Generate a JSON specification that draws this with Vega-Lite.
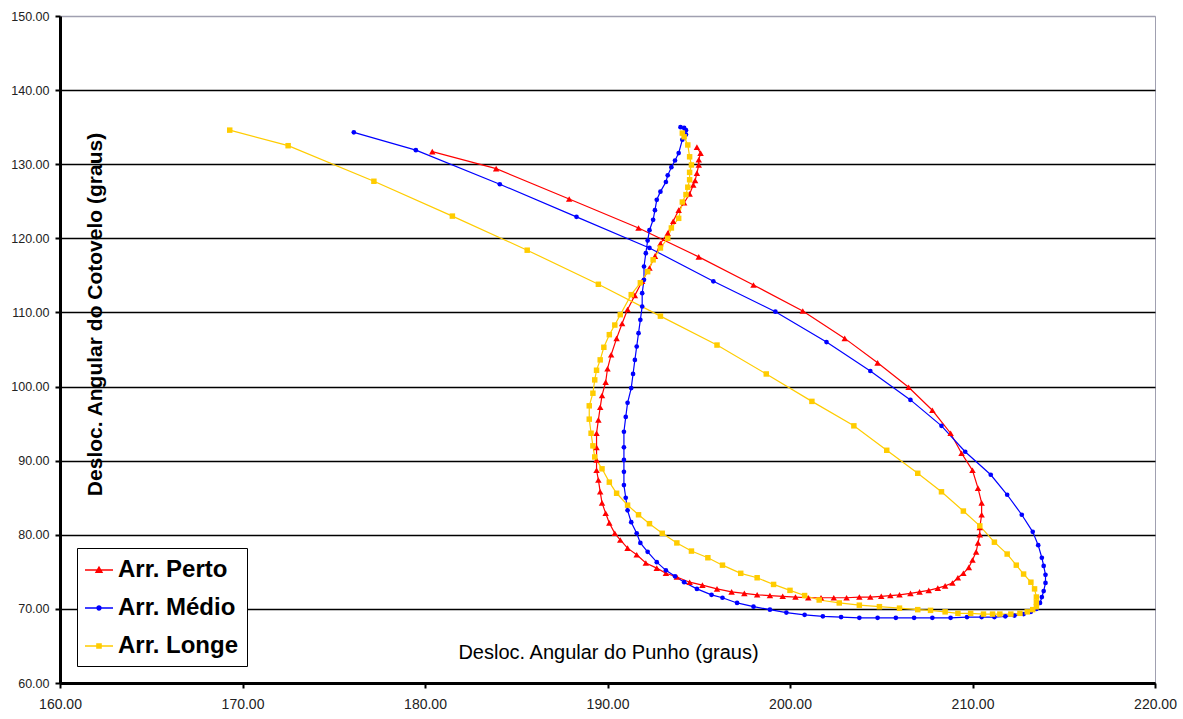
{
  "$schema": "https://vega.github.io/schema/vega-lite/v6.json",
  "width": 1095,
  "height": 667,
  "autosize": {"type": "none"},
  "padding": {"left": 60, "top": 16, "right": 28, "bottom": 36},
  "background": "white",
  "config": {
    "view": {"stroke": "#a0a0b0", "strokeWidth": 1},
    "font": "Liberation Sans"
  },
  "data": {"values": [
{"s":"Arr. Perto","x":194.9,"y":132.3},{"s":"Arr. Perto","x":195.1,"y":131.5},{"s":"Arr. Perto","x":195.0,"y":130.6},{"s":"Arr. Perto","x":195.0,"y":129.9},{"s":"Arr. Perto","x":194.9,"y":128.8},{"s":"Arr. Perto","x":194.8,"y":127.8},{"s":"Arr. Perto","x":194.7,"y":127.2},{"s":"Arr. Perto","x":194.5,"y":126.0},{"s":"Arr. Perto","x":194.2,"y":124.8},{"s":"Arr. Perto","x":193.9,"y":123.8},{"s":"Arr. Perto","x":193.6,"y":122.3},{"s":"Arr. Perto","x":193.3,"y":120.7},{"s":"Arr. Perto","x":192.9,"y":119.3},{"s":"Arr. Perto","x":192.6,"y":117.6},{"s":"Arr. Perto","x":192.3,"y":116.0},{"s":"Arr. Perto","x":191.9,"y":114.2},{"s":"Arr. Perto","x":191.5,"y":112.3},{"s":"Arr. Perto","x":191.1,"y":110.4},{"s":"Arr. Perto","x":190.8,"y":108.5},{"s":"Arr. Perto","x":190.5,"y":106.5},{"s":"Arr. Perto","x":190.2,"y":104.3},{"s":"Arr. Perto","x":190.0,"y":102.4},{"s":"Arr. Perto","x":189.9,"y":100.6},{"s":"Arr. Perto","x":189.7,"y":98.8},{"s":"Arr. Perto","x":189.6,"y":97.2},{"s":"Arr. Perto","x":189.5,"y":95.5},{"s":"Arr. Perto","x":189.4,"y":93.7},{"s":"Arr. Perto","x":189.4,"y":91.8},{"s":"Arr. Perto","x":189.4,"y":90.1},{"s":"Arr. Perto","x":189.4,"y":88.7},{"s":"Arr. Perto","x":189.5,"y":87.4},{"s":"Arr. Perto","x":189.6,"y":85.8},{"s":"Arr. Perto","x":189.7,"y":84.3},{"s":"Arr. Perto","x":189.9,"y":82.9},{"s":"Arr. Perto","x":190.1,"y":81.6},{"s":"Arr. Perto","x":190.4,"y":80.2},{"s":"Arr. Perto","x":190.7,"y":79.3},{"s":"Arr. Perto","x":191.1,"y":78.2},{"s":"Arr. Perto","x":191.6,"y":77.3},{"s":"Arr. Perto","x":192.1,"y":76.2},{"s":"Arr. Perto","x":192.7,"y":75.5},{"s":"Arr. Perto","x":193.2,"y":74.8},{"s":"Arr. Perto","x":193.8,"y":74.3},{"s":"Arr. Perto","x":194.5,"y":73.6},{"s":"Arr. Perto","x":195.2,"y":73.2},{"s":"Arr. Perto","x":196.0,"y":72.7},{"s":"Arr. Perto","x":196.8,"y":72.3},{"s":"Arr. Perto","x":197.5,"y":72.1},{"s":"Arr. Perto","x":198.2,"y":71.9},{"s":"Arr. Perto","x":198.9,"y":71.8},{"s":"Arr. Perto","x":199.6,"y":71.7},{"s":"Arr. Perto","x":200.3,"y":71.6},{"s":"Arr. Perto","x":201.0,"y":71.5},{"s":"Arr. Perto","x":201.7,"y":71.5},{"s":"Arr. Perto","x":202.4,"y":71.5},{"s":"Arr. Perto","x":203.1,"y":71.5},{"s":"Arr. Perto","x":203.8,"y":71.6},{"s":"Arr. Perto","x":204.4,"y":71.6},{"s":"Arr. Perto","x":205.0,"y":71.7},{"s":"Arr. Perto","x":205.5,"y":71.8},{"s":"Arr. Perto","x":206.0,"y":71.9},{"s":"Arr. Perto","x":206.6,"y":72.1},{"s":"Arr. Perto","x":207.1,"y":72.3},{"s":"Arr. Perto","x":207.6,"y":72.5},{"s":"Arr. Perto","x":208.1,"y":72.8},{"s":"Arr. Perto","x":208.5,"y":73.1},{"s":"Arr. Perto","x":208.9,"y":73.5},{"s":"Arr. Perto","x":209.2,"y":74.2},{"s":"Arr. Perto","x":209.5,"y":74.8},{"s":"Arr. Perto","x":209.8,"y":75.6},{"s":"Arr. Perto","x":210.0,"y":76.6},{"s":"Arr. Perto","x":210.2,"y":77.7},{"s":"Arr. Perto","x":210.3,"y":78.9},{"s":"Arr. Perto","x":210.4,"y":80.0},{"s":"Arr. Perto","x":210.4,"y":81.0},{"s":"Arr. Perto","x":210.5,"y":82.7},{"s":"Arr. Perto","x":210.5,"y":84.3},{"s":"Arr. Perto","x":210.3,"y":86.3},{"s":"Arr. Perto","x":210.0,"y":88.7},{"s":"Arr. Perto","x":209.4,"y":91.0},{"s":"Arr. Perto","x":208.8,"y":93.7},{"s":"Arr. Perto","x":207.8,"y":96.8},{"s":"Arr. Perto","x":206.5,"y":99.9},{"s":"Arr. Perto","x":204.8,"y":103.2},{"s":"Arr. Perto","x":203.0,"y":106.5},{"s":"Arr. Perto","x":200.7,"y":110.2},{"s":"Arr. Perto","x":198.0,"y":113.7},{"s":"Arr. Perto","x":195.0,"y":117.5},{"s":"Arr. Perto","x":191.7,"y":121.4},{"s":"Arr. Perto","x":187.9,"y":125.3},{"s":"Arr. Perto","x":183.9,"y":129.4},{"s":"Arr. Perto","x":180.4,"y":131.7},
{"s":"Arr. Médio","x":194.2,"y":134.9},{"s":"Arr. Médio","x":194.0,"y":135.0},{"s":"Arr. Médio","x":194.3,"y":134.6},{"s":"Arr. Médio","x":194.3,"y":134.0},{"s":"Arr. Médio","x":194.1,"y":133.3},{"s":"Arr. Médio","x":193.9,"y":131.5},{"s":"Arr. Médio","x":193.7,"y":130.5},{"s":"Arr. Médio","x":193.5,"y":129.6},{"s":"Arr. Médio","x":193.3,"y":128.5},{"s":"Arr. Médio","x":193.2,"y":127.6},{"s":"Arr. Médio","x":192.9,"y":126.3},{"s":"Arr. Médio","x":192.7,"y":125.2},{"s":"Arr. Médio","x":192.6,"y":123.8},{"s":"Arr. Médio","x":192.5,"y":122.5},{"s":"Arr. Médio","x":192.3,"y":121.1},{"s":"Arr. Médio","x":192.2,"y":119.7},{"s":"Arr. Médio","x":192.1,"y":118.0},{"s":"Arr. Médio","x":192.0,"y":116.2},{"s":"Arr. Médio","x":192.0,"y":114.4},{"s":"Arr. Médio","x":191.9,"y":112.6},{"s":"Arr. Médio","x":191.9,"y":110.8},{"s":"Arr. Médio","x":191.8,"y":109.0},{"s":"Arr. Médio","x":191.7,"y":107.2},{"s":"Arr. Médio","x":191.6,"y":105.4},{"s":"Arr. Médio","x":191.5,"y":103.6},{"s":"Arr. Médio","x":191.4,"y":101.7},{"s":"Arr. Médio","x":191.3,"y":99.8},{"s":"Arr. Médio","x":191.1,"y":97.8},{"s":"Arr. Médio","x":191.0,"y":95.9},{"s":"Arr. Médio","x":190.9,"y":93.9},{"s":"Arr. Médio","x":190.9,"y":91.8},{"s":"Arr. Médio","x":190.9,"y":90.1},{"s":"Arr. Médio","x":190.9,"y":88.5},{"s":"Arr. Médio","x":190.9,"y":86.7},{"s":"Arr. Médio","x":191.0,"y":85.0},{"s":"Arr. Médio","x":191.1,"y":83.3},{"s":"Arr. Médio","x":191.3,"y":81.7},{"s":"Arr. Médio","x":191.6,"y":80.2},{"s":"Arr. Médio","x":191.8,"y":78.9},{"s":"Arr. Médio","x":192.2,"y":77.7},{"s":"Arr. Médio","x":192.7,"y":76.3},{"s":"Arr. Médio","x":193.2,"y":75.2},{"s":"Arr. Médio","x":193.7,"y":74.4},{"s":"Arr. Médio","x":194.2,"y":73.6},{"s":"Arr. Médio","x":194.9,"y":72.7},{"s":"Arr. Médio","x":195.7,"y":71.9},{"s":"Arr. Médio","x":196.3,"y":71.5},{"s":"Arr. Médio","x":197.1,"y":70.8},{"s":"Arr. Médio","x":198.0,"y":70.3},{"s":"Arr. Médio","x":198.9,"y":69.9},{"s":"Arr. Médio","x":199.8,"y":69.5},{"s":"Arr. Médio","x":200.8,"y":69.2},{"s":"Arr. Médio","x":201.8,"y":69.0},{"s":"Arr. Médio","x":202.8,"y":68.9},{"s":"Arr. Médio","x":203.8,"y":68.8},{"s":"Arr. Médio","x":204.8,"y":68.8},{"s":"Arr. Médio","x":205.8,"y":68.8},{"s":"Arr. Médio","x":206.8,"y":68.8},{"s":"Arr. Médio","x":207.8,"y":68.8},{"s":"Arr. Médio","x":208.8,"y":68.8},{"s":"Arr. Médio","x":209.7,"y":68.9},{"s":"Arr. Médio","x":210.5,"y":68.9},{"s":"Arr. Médio","x":211.2,"y":68.9},{"s":"Arr. Médio","x":211.8,"y":69.0},{"s":"Arr. Médio","x":212.3,"y":69.1},{"s":"Arr. Médio","x":212.8,"y":69.3},{"s":"Arr. Médio","x":213.2,"y":69.6},{"s":"Arr. Médio","x":213.5,"y":70.0},{"s":"Arr. Médio","x":213.7,"y":70.8},{"s":"Arr. Médio","x":213.8,"y":71.6},{"s":"Arr. Médio","x":213.9,"y":72.4},{"s":"Arr. Médio","x":214.0,"y":73.5},{"s":"Arr. Médio","x":214.0,"y":74.6},{"s":"Arr. Médio","x":213.9,"y":75.8},{"s":"Arr. Médio","x":213.8,"y":76.9},{"s":"Arr. Médio","x":213.6,"y":78.6},{"s":"Arr. Médio","x":213.3,"y":80.4},{"s":"Arr. Médio","x":212.7,"y":82.7},{"s":"Arr. Médio","x":211.9,"y":85.4},{"s":"Arr. Médio","x":211.0,"y":88.1},{"s":"Arr. Médio","x":209.6,"y":91.2},{"s":"Arr. Médio","x":208.3,"y":94.7},{"s":"Arr. Médio","x":206.6,"y":98.2},{"s":"Arr. Médio","x":204.4,"y":102.1},{"s":"Arr. Médio","x":202.0,"y":106.0},{"s":"Arr. Médio","x":199.2,"y":110.1},{"s":"Arr. Médio","x":195.8,"y":114.2},{"s":"Arr. Médio","x":192.3,"y":118.7},{"s":"Arr. Médio","x":188.3,"y":122.9},{"s":"Arr. Médio","x":184.1,"y":127.3},{"s":"Arr. Médio","x":179.5,"y":131.9},{"s":"Arr. Médio","x":176.1,"y":134.3},
{"s":"Arr. Longe","x":194.1,"y":134.2},{"s":"Arr. Longe","x":194.2,"y":133.7},{"s":"Arr. Longe","x":194.4,"y":132.6},{"s":"Arr. Longe","x":194.5,"y":131.0},{"s":"Arr. Longe","x":194.6,"y":129.9},{"s":"Arr. Longe","x":194.5,"y":128.9},{"s":"Arr. Longe","x":194.5,"y":127.9},{"s":"Arr. Longe","x":194.4,"y":126.9},{"s":"Arr. Longe","x":194.3,"y":125.9},{"s":"Arr. Longe","x":194.1,"y":124.9},{"s":"Arr. Longe","x":193.9,"y":122.7},{"s":"Arr. Longe","x":193.5,"y":121.4},{"s":"Arr. Longe","x":193.3,"y":120.0},{"s":"Arr. Longe","x":192.9,"y":118.7},{"s":"Arr. Longe","x":192.5,"y":117.1},{"s":"Arr. Longe","x":192.2,"y":115.5},{"s":"Arr. Longe","x":191.8,"y":114.0},{"s":"Arr. Longe","x":191.3,"y":112.4},{"s":"Arr. Longe","x":190.7,"y":109.7},{"s":"Arr. Longe","x":190.4,"y":108.3},{"s":"Arr. Longe","x":190.1,"y":107.0},{"s":"Arr. Longe","x":189.8,"y":105.3},{"s":"Arr. Longe","x":189.6,"y":103.6},{"s":"Arr. Longe","x":189.4,"y":102.2},{"s":"Arr. Longe","x":189.3,"y":100.9},{"s":"Arr. Longe","x":189.2,"y":99.1},{"s":"Arr. Longe","x":189.0,"y":97.4},{"s":"Arr. Longe","x":189.0,"y":95.6},{"s":"Arr. Longe","x":189.1,"y":93.7},{"s":"Arr. Longe","x":189.2,"y":92.0},{"s":"Arr. Longe","x":189.3,"y":90.5},{"s":"Arr. Longe","x":189.7,"y":88.9},{"s":"Arr. Longe","x":190.1,"y":87.1},{"s":"Arr. Longe","x":190.5,"y":85.6},{"s":"Arr. Longe","x":191.1,"y":84.0},{"s":"Arr. Longe","x":191.7,"y":82.7},{"s":"Arr. Longe","x":192.3,"y":81.5},{"s":"Arr. Longe","x":193.0,"y":80.2},{"s":"Arr. Longe","x":193.8,"y":78.9},{"s":"Arr. Longe","x":194.6,"y":77.8},{"s":"Arr. Longe","x":195.5,"y":76.9},{"s":"Arr. Longe","x":196.3,"y":75.9},{"s":"Arr. Longe","x":197.3,"y":74.8},{"s":"Arr. Longe","x":198.2,"y":74.2},{"s":"Arr. Longe","x":199.1,"y":73.3},{"s":"Arr. Longe","x":200.0,"y":72.5},{"s":"Arr. Longe","x":200.8,"y":71.8},{"s":"Arr. Longe","x":201.6,"y":71.2},{"s":"Arr. Longe","x":202.7,"y":70.8},{"s":"Arr. Longe","x":203.8,"y":70.5},{"s":"Arr. Longe","x":204.9,"y":70.3},{"s":"Arr. Longe","x":206.0,"y":70.1},{"s":"Arr. Longe","x":207.0,"y":69.9},{"s":"Arr. Longe","x":207.7,"y":69.8},{"s":"Arr. Longe","x":208.5,"y":69.6},{"s":"Arr. Longe","x":209.2,"y":69.4},{"s":"Arr. Longe","x":209.9,"y":69.4},{"s":"Arr. Longe","x":210.6,"y":69.3},{"s":"Arr. Longe","x":211.1,"y":69.3},{"s":"Arr. Longe","x":211.5,"y":69.3},{"s":"Arr. Longe","x":212.1,"y":69.3},{"s":"Arr. Longe","x":212.6,"y":69.4},{"s":"Arr. Longe","x":213.0,"y":69.6},{"s":"Arr. Longe","x":213.3,"y":69.9},{"s":"Arr. Longe","x":213.5,"y":70.3},{"s":"Arr. Longe","x":213.5,"y":70.9},{"s":"Arr. Longe","x":213.5,"y":71.6},{"s":"Arr. Longe","x":213.4,"y":72.7},{"s":"Arr. Longe","x":213.2,"y":73.6},{"s":"Arr. Longe","x":212.8,"y":74.7},{"s":"Arr. Longe","x":212.4,"y":75.9},{"s":"Arr. Longe","x":211.9,"y":77.4},{"s":"Arr. Longe","x":211.2,"y":79.0},{"s":"Arr. Longe","x":210.4,"y":81.2},{"s":"Arr. Longe","x":209.5,"y":83.2},{"s":"Arr. Longe","x":208.3,"y":85.8},{"s":"Arr. Longe","x":207.0,"y":88.3},{"s":"Arr. Longe","x":205.3,"y":91.4},{"s":"Arr. Longe","x":203.5,"y":94.7},{"s":"Arr. Longe","x":201.2,"y":98.0},{"s":"Arr. Longe","x":198.7,"y":101.7},{"s":"Arr. Longe","x":196.0,"y":105.6},{"s":"Arr. Longe","x":192.9,"y":109.5},{"s":"Arr. Longe","x":189.5,"y":113.8},{"s":"Arr. Longe","x":185.6,"y":118.4},{"s":"Arr. Longe","x":181.5,"y":123.0},{"s":"Arr. Longe","x":177.2,"y":127.7},{"s":"Arr. Longe","x":172.5,"y":132.5},{"s":"Arr. Longe","x":169.3,"y":134.6}
  ]},
  "encoding": {
    "x": {
      "field": "x", "type": "quantitative",
      "scale": {"domain": [160, 220], "nice": false, "zero": false},
      "axis": {
        "values": [160, 170, 180, 190, 200, 210, 220],
        "format": ".2f",
        "title": "Desloc. Angular do Punho (graus)",
        "titleFont": "Liberation Sans", "titleFontSize": 20, "titleFontWeight": "normal", "titleColor": "black",
        "titleX": 548, "titleY": -31, "titleAlign": "center", "titleBaseline": "middle",
        "grid": false,
        "domainColor": "black", "domainWidth": 3,
        "tickColor": "black", "tickWidth": 2, "tickSize": 5,
        "labelFont": "Liberation Sans", "labelFontSize": 14, "labelColor": "#222", "labelPadding": 9,
        "labelFlush": false, "labelOverlap": false
      }
    },
    "y": {
      "field": "y", "type": "quantitative",
      "scale": {"domain": [60, 150], "nice": false, "zero": false},
      "axis": {
        "values": [60, 70, 80, 90, 100, 110, 120, 130, 140, 150],
        "format": ".2f",
        "title": "Desloc. Angular do Cotovelo (graus)",
        "titleFont": "Liberation Sans", "titleFontSize": 21, "titleFontWeight": "bold", "titleColor": "black",
        "titleAngle": -90, "titleX": 35, "titleY": 298, "titleAlign": "center", "titleBaseline": "middle",
        "grid": true,
        "gridColor": {"condition": {"test": "datum.value >= 150", "value": "#a0a0b0"}, "value": "black"},
        "gridWidth": 1.4,
        "domainColor": "black", "domainWidth": 3,
        "tickColor": "black", "tickWidth": 2, "tickSize": 5,
        "labelFont": "Liberation Sans", "labelFontSize": 12.5, "labelColor": "#222", "labelPadding": 6,
        "labelFlush": false, "labelOverlap": false
      }
    },
    "color": {
      "field": "s", "type": "nominal",
      "scale": {"domain": ["Arr. Perto", "Arr. Médio", "Arr. Longe"], "range": ["#FF0000", "#0000FF", "#FFCC00"]},
      "legend": {
        "title": null,
        "orient": "none", "legendX": 17, "legendY": 532,
        "strokeColor": "black", "fillColor": "white",
        "padding": 8,
        "labelFont": "Liberation Sans", "labelFontSize": 24, "labelFontWeight": "bold", "labelColor": "black",
        "labelLimit": 300, "labelOffset": 5,
        "symbolSize": 784, "rowPadding": 12, "symbolStrokeWidth": 0, "symbolOpacity": 1
      }
    }
  },
  "layer": [
    {
      "mark": {"type": "line", "strokeWidth": 1.2, "interpolate": "linear"},
      "encoding": {"order": {"value": null}}
    },
    {
      "transform": [{"filter": "datum.s === 'Arr. Perto'"}],
      "mark": {"type": "point", "filled": true, "opacity": 1, "size": 42, "shape": "triangle-up"}
    },
    {
      "transform": [{"filter": "datum.s === 'Arr. Médio'"}],
      "mark": {"type": "point", "filled": true, "opacity": 1, "size": 22, "shape": "circle"}
    },
    {
      "transform": [{"filter": "datum.s === 'Arr. Longe'"}],
      "mark": {"type": "point", "filled": true, "opacity": 1, "size": 30, "shape": "square"}
    },
    {
      "transform": [{"filter": "false"}],
      "mark": {"type": "point", "filled": true, "opacity": 1},
      "encoding": {
        "shape": {
          "field": "s", "type": "nominal",
          "scale": {
            "domain": ["Arr. Perto", "Arr. Médio", "Arr. Longe"],
            "range": [
              "M-1,-0.045H1V0.045H-1Z M0,-0.3L0.3,0.22L-0.3,0.22Z",
              "M-1,-0.045H1V0.045H-1Z M0.19,0A0.19,0.19 0 1,1 -0.19,0A0.19,0.19 0 1,1 0.19,0Z",
              "M-1,-0.045H1V0.045H-1Z M-0.2,-0.2H0.2V0.2H-0.2Z"
            ]
          },
          "legend": {
            "title": null,
            "orient": "none", "legendX": 17, "legendY": 532,
            "strokeColor": "black", "fillColor": "white",
            "padding": 8,
            "labelFont": "Liberation Sans", "labelFontSize": 24, "labelFontWeight": "bold", "labelColor": "black",
            "labelLimit": 300, "labelOffset": 5,
            "symbolSize": 784, "rowPadding": 12, "symbolStrokeWidth": 0, "symbolOpacity": 1
          }
        }
      }
    }
  ]
}
